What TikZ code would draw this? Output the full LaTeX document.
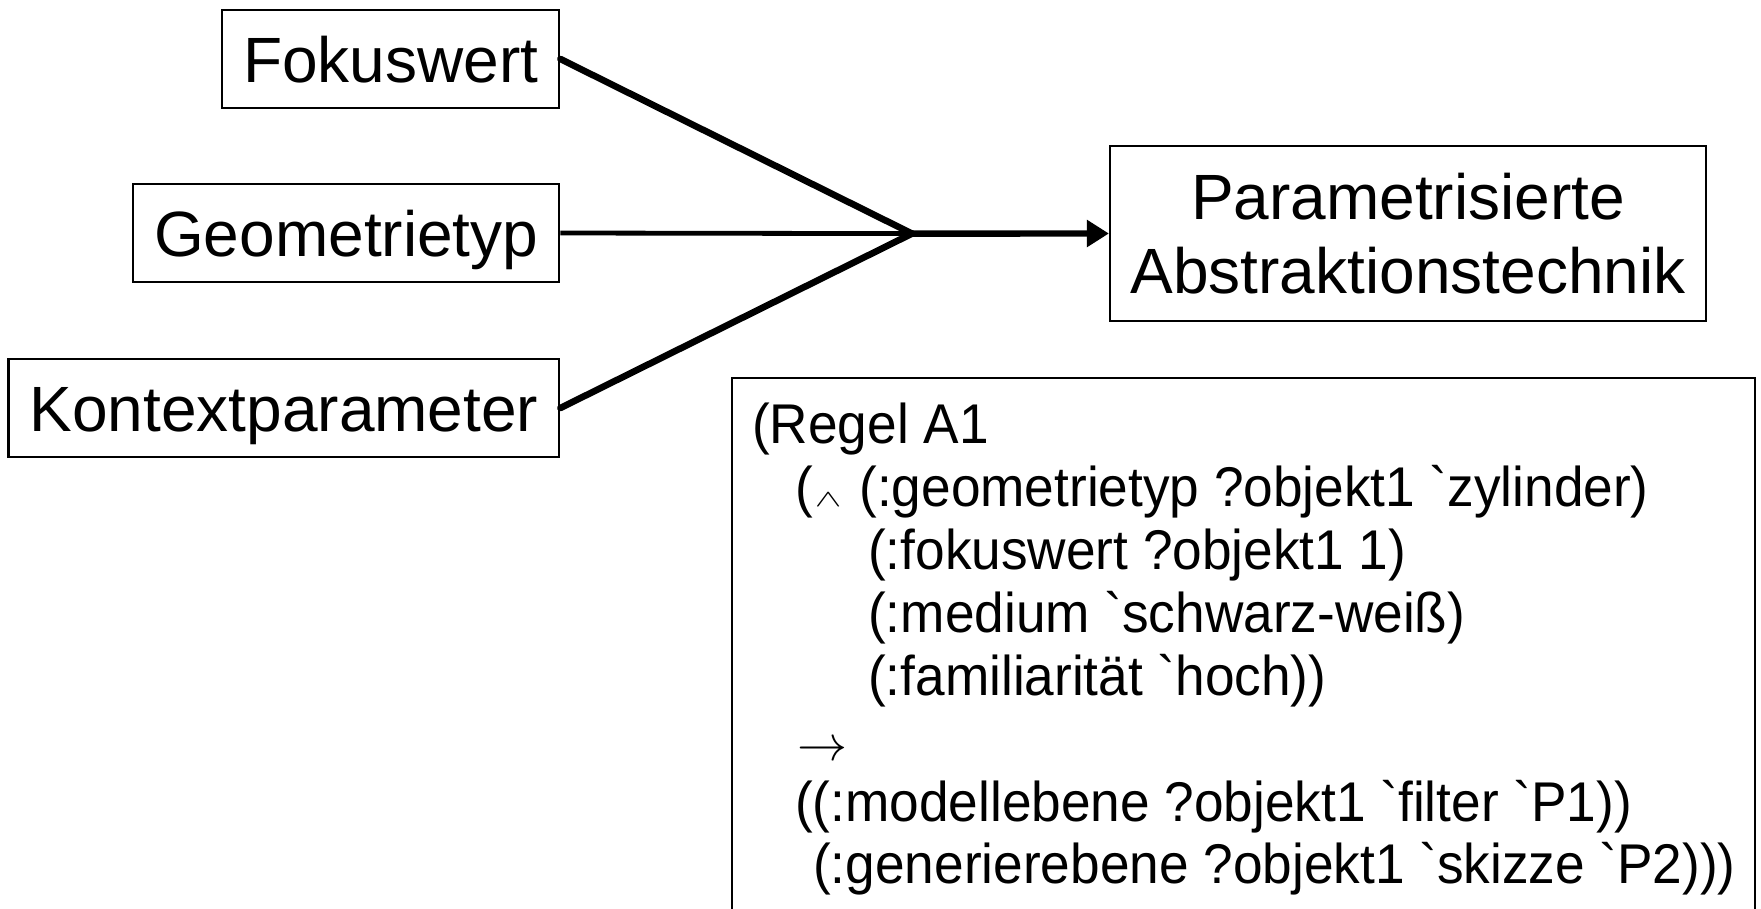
\RequirePackage{fix-cm}
\documentclass[tikz,border=0pt]{standalone}
\usepackage{graphicx}
\usepackage{fontspec}
\newfontfamily\arialf{Liberation Sans}
\newfontfamily\rulefont[FakeStretch=0.95]{Liberation Sans}
\usetikzlibrary{arrows.meta}
\tikzset{
  lab/.style={draw, line width=2.2pt, font=\arialf\fontsize{64}{74}\selectfont,
    text height=46pt, text depth=0pt, inner xsep=21pt, inner ysep=0pt,
    minimum height=98pt, anchor=east},
  thickln/.style={line width=6.6pt, line cap=round},
  thinln/.style={line width=4.8pt},
  rl/.style={anchor=base west, inner sep=0pt, font=\rulefont\fontsize{56}{63}\selectfont},
}
\begin{document}
\begin{tikzpicture}[x=1pt,y=-1pt]
\useasboundingbox[fill=white] (0,0) rectangle (1761,908);
\node[lab] (fok) at (560.4,59) {Fokuswert};
\node[lab] (geo) at (560.4,233) {Geometrietyp};
\node[lab] (kon) at (560.4,408) {Kontextparameter};
\coordinate (J) at (912,233.6);
\node[draw, line width=2.2pt, minimum width=596pt, minimum height=175pt, align=center,
  inner sep=0pt, font=\arialf\fontsize{64}{74}\selectfont] (tgt) at (1408,233.5)
  {Parametrisierte\\Abstraktionstechnik};
\draw[thickln] (fok.east) -- (J);
\draw[thinln] (geo.east) -- (J);
\draw[thickln] (kon.east) -- (J);
\draw[line width=6.4pt, -{Triangle[length=22pt,width=26pt]}] (J) -- (tgt.west);
\node[draw, line width=2.2pt, minimum width=1023pt, minimum height=560pt, anchor=north west] (rule) at (731,377) {};
\node[rl] (r1) at (752,443.6) {(Regel A1};
\node[rl] (r2) at (795,506.5) {(\hspace{2pt}\scalebox{1}[0.6]{\fontsize{40}{40}\selectfont$\wedge$}\hspace{3pt} (:geometrietyp ?objekt1 `zylinder)};
\node[rl] (r3) at (868,569.4) {(:fokuswert ?objekt1 1)};
\node[rl] (r4) at (868,632.3) {(:medium `schwarz-weiß)};
\node[rl] (r5) at (868,695.2) {(:familiarität `hoch))};
\node[rl] (r6) at (797,760) {{\fontsize{50}{50}\selectfont$\rightarrow$}};
\node[rl] (r7) at (795,821) {((:modellebene ?objekt1 `filter `P1))};
\node[rl] (r8) at (813,883.9) {(:generierebene ?objekt1 `skizze `P2)))};
\end{tikzpicture}
\end{document}
